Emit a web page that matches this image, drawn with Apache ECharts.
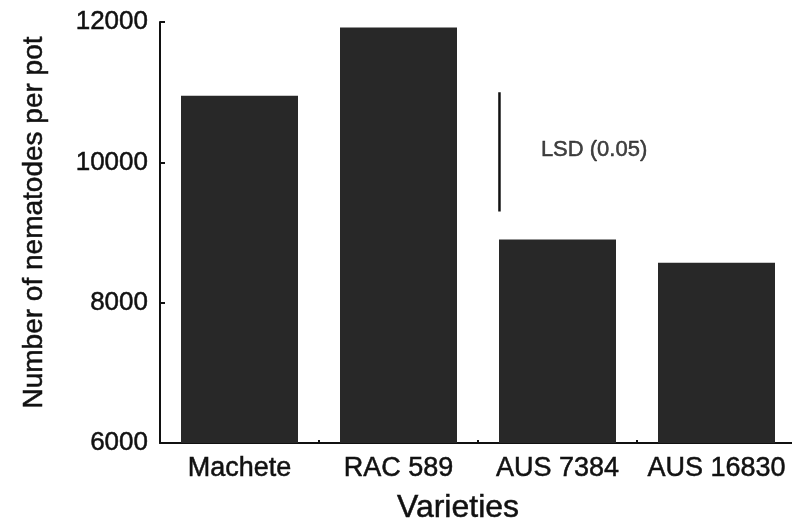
<!DOCTYPE html>
<html>
<head>
<meta charset="utf-8">
<script src="https://cdn.jsdelivr.net/npm/echarts@6/dist/echarts.min.js"></script>
<style>
  html, body { margin: 0; padding: 0; background: #fff; }
  #chart { width: 792px; height: 526px; }
</style>
</head>
<body>
<div id="chart"></div>
<script>
// Nematode counts per pot for each variety
const varieties = ['Machete', 'RAC 589', 'AUS 7384', 'AUS 16830'];
const nematodes = [10950, 11920, 8900, 8570];
const yTicks = [6000, 8000, 10000, 12000];

// Least significant difference bar (P = 0.05)
const lsdLabel = 'LSD (0.05)';
const lsdBottom = 9300;
const lsdTop = 11000;

const FONT = '"Liberation Sans", Arial, Helvetica, sans-serif';
const INK = '#111111';
// slightly heavier lettering
const heavy = { textBorderColor: INK, textBorderWidth: 0.5 };

const chart = echarts.init(document.getElementById('chart'), null, { renderer: 'canvas' });

// Overlay value axis runs 0..4 across the four category bands
const lsdX = 2.135;     // horizontal place of the LSD bar
const lsdTextX = 2.73;  // where its caption sits
const lsdTextY = 10180;

chart.setOption({
  animation: false,
  backgroundColor: '#ffffff',
  grid: { left: 160, top: 22, width: 636, bottom: 83, containLabel: false, outerBoundsMode: 'none' },
  xAxis: [
    {
      type: 'category',
      data: varieties,
      name: 'Varieties',
      nameLocation: 'middle',
      nameGap: 49,
      nameTextStyle: Object.assign({ fontFamily: FONT, fontSize: 32, color: INK, padding: [0, 40, 0, 0] }, heavy),
      axisLine: { lineStyle: { color: INK, width: 2 } },
      axisTick: { show: true, inside: true, length: 3, lineStyle: { color: INK, width: 2 } },
      axisLabel: Object.assign({ fontFamily: FONT, fontSize: 27, color: INK, margin: 12, interval: 0, hideOverlap: false }, heavy),
      splitLine: { show: false }
    },
    {
      type: 'value',
      min: 0,
      max: 4,
      show: false
    }
  ],
  yAxis: {
    type: 'value',
    min: yTicks[0],
    max: yTicks[yTicks.length - 1],
    interval: 2000,
    name: 'Number of nematodes per pot',
    nameLocation: 'middle',
    nameGap: 112,
    nameTextStyle: Object.assign({ fontFamily: FONT, fontSize: 28, color: INK, padding: [0, 0, 0, 20] }, heavy),
    axisLine: { show: true, lineStyle: { color: INK, width: 2 } },
    axisTick: { show: true, inside: true, length: 5, lineStyle: { color: INK, width: 2 } },
    axisLabel: Object.assign({
      fontFamily: FONT, fontSize: 26, color: INK, margin: 12,
      formatter: (v) => String(v)
    }, heavy),
    splitLine: { show: false }
  },
  series: [
    {
      type: 'bar',
      data: nematodes,
      barWidth: 117,
      itemStyle: { color: '#282828' }
    },
    {
      type: 'line',
      xAxisIndex: 1,
      data: [[lsdX, lsdBottom], [lsdX, lsdTop]],
      symbol: 'none',
      lineStyle: { color: '#111', width: 2.5 },
      silent: true
    },
    {
      type: 'scatter',
      xAxisIndex: 1,
      data: [[lsdTextX, lsdTextY]],
      symbolSize: 0,
      label: Object.assign({
        show: true,
        position: 'inside',
        formatter: lsdLabel,
        fontFamily: FONT,
        fontSize: 22,
        color: INK
      }, heavy),
      silent: true
    }
  ]
});
</script>
</body>
</html>
